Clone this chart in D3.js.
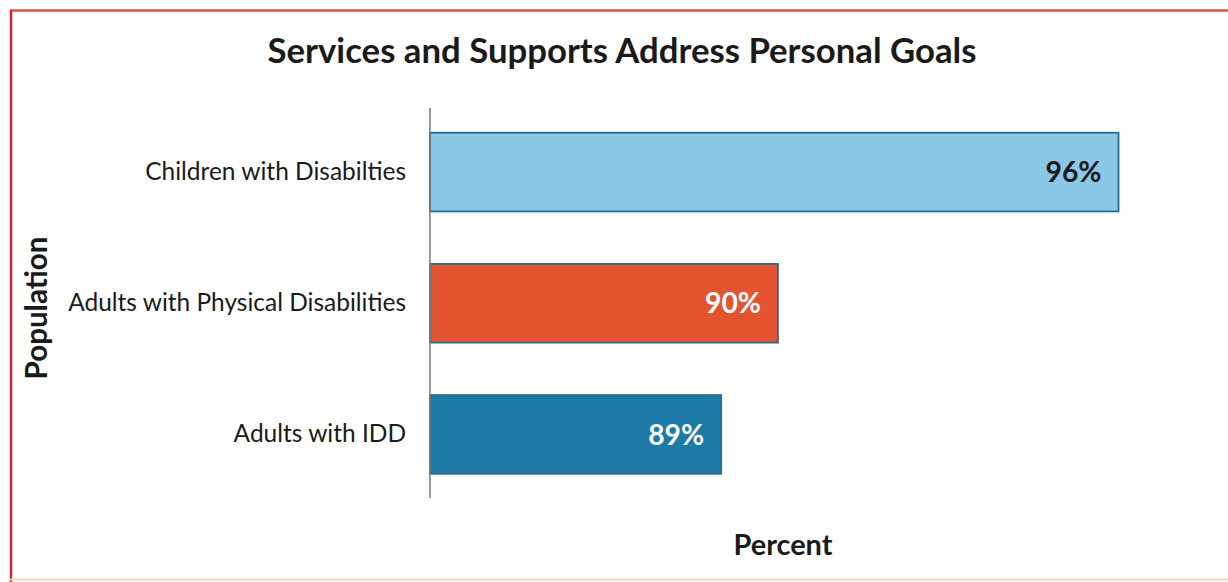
<!DOCTYPE html>
<html>
<head>
<meta charset="utf-8">
<script src="https://cdn.jsdelivr.net/npm/d3@7"></script>
<style>
  html, body { margin: 0; padding: 0; background: #fff; }
  svg { display: block; }
  text { font-family: Lato, "Open Sans", sans-serif; fill: #1a1a1a; }
</style>
</head>
<body>
<svg id="chart" width="1228" height="582"></svg>
<script>
const title = "Services and Supports Address Personal Goals";
const categories = ["Children with Disabilties", "Adults with Physical Disabilities", "Adults with IDD"];
const values = [96, 90, 89];
const valueLabels = ["96%", "90%", "89%"];
const barColors = ["#8bc7e6", "#e4532f", "#1d79a5"];
const labelColors = ["#1a1a1a", "#ffffff", "#ffffff"];
const xAxisTitle = "Percent";
const yAxisTitle = "Population";

const svg = d3.select("#chart");
const W = 1228, H = 582;

// frame
svg.append("rect").attr("x", 0).attr("y", 0).attr("width", W).attr("height", H).attr("fill", "#fff");
svg.append("line").attr("x1", 10).attr("x2", W).attr("y1", 10.5).attr("y2", 10.5)
  .attr("stroke", "#d9573a").attr("stroke-width", 2.5);
svg.append("line").attr("x1", 11).attr("x2", 11).attr("y1", 10).attr("y2", H)
  .attr("stroke", "#c8283a").attr("stroke-width", 2.5);
svg.append("line").attr("x1", 10).attr("x2", W).attr("y1", 579.5).attr("y2", 579.5)
  .attr("stroke", "#f3d2b8").attr("stroke-width", 2);

const plotLeft = 430;
const xMin = 83.87;
const x = d3.scaleLinear().domain([xMin, 96]).range([plotLeft, 1118.5]);
const y = d3.scaleBand().domain(categories).range([106.5, 500]).paddingInner(0.4).paddingOuter(0.2);

function fit(sel, target) {
  const n = sel.node();
  const fs = parseFloat(sel.attr("font-size"));
  const w = n.getComputedTextLength();
  sel.attr("font-size", (fs * target / w).toFixed(2));
  return sel;
}

// title
fit(svg.append("text").attr("x", 622).attr("y", 63).attr("text-anchor", "middle")
  .attr("font-size", 30).attr("font-weight", 700).text(title), 709);

// bars
const g = svg.append("g");
g.selectAll("rect.bar").data(categories).join("rect")
  .attr("class", "bar")
  .attr("x", x(xMin))
  .attr("y", d => y(d))
  .attr("width", (d, i) => x(values[i]) - x(xMin))
  .attr("height", y.bandwidth())
  .attr("fill", (d, i) => barColors[i])
  .attr("stroke", "#2b6d8e")
  .attr("stroke-width", 1.8);

// y axis line (no ticks)
const yAxis = d3.axisLeft(y).tickSize(0).tickPadding(24);
const ya = svg.append("g").attr("transform", `translate(${plotLeft},0)`).call(yAxis);
ya.select(".domain").attr("stroke", "#7a7a7a").attr("stroke-width", 1.5)
  .attr("d", "M0,108V498");
ya.selectAll(".tick text").attr("font-size", 20).attr("fill", "#1a1a1a")
  .style("font-family", "Lato, 'Open Sans', sans-serif");
{
  const nodes = ya.selectAll(".tick text").nodes();
  const longest = d3.max(nodes, n => n.getComputedTextLength());
  const fs = 20 * 338 / longest;
  ya.selectAll(".tick text").attr("font-size", fs.toFixed(2));
}

// value labels
g.selectAll("text.val").data(categories).join("text")
  .attr("class", "val")
  .attr("x", (d, i) => x(values[i]) - 17)
  .attr("y", d => y(d) + y.bandwidth() / 2)
  .attr("dy", "0.36em")
  .attr("text-anchor", "end")
  .attr("font-size", 28)
  .attr("font-weight", 700)
  .style("fill", (d, i) => labelColors[i])
  .text((d, i) => valueLabels[i])
  .each(function() { fit(d3.select(this), 56); });

// axis titles
fit(svg.append("text").attr("x", 783).attr("y", 555).attr("text-anchor", "middle")
  .attr("font-size", 24).attr("font-weight", 700).text(xAxisTitle), 99);
fit(svg.append("text").attr("transform", "translate(47,308) rotate(-90)").attr("text-anchor", "middle")
  .attr("font-size", 24).attr("font-weight", 700).text(yAxisTitle), 143);
</script>
</body>
</html>
